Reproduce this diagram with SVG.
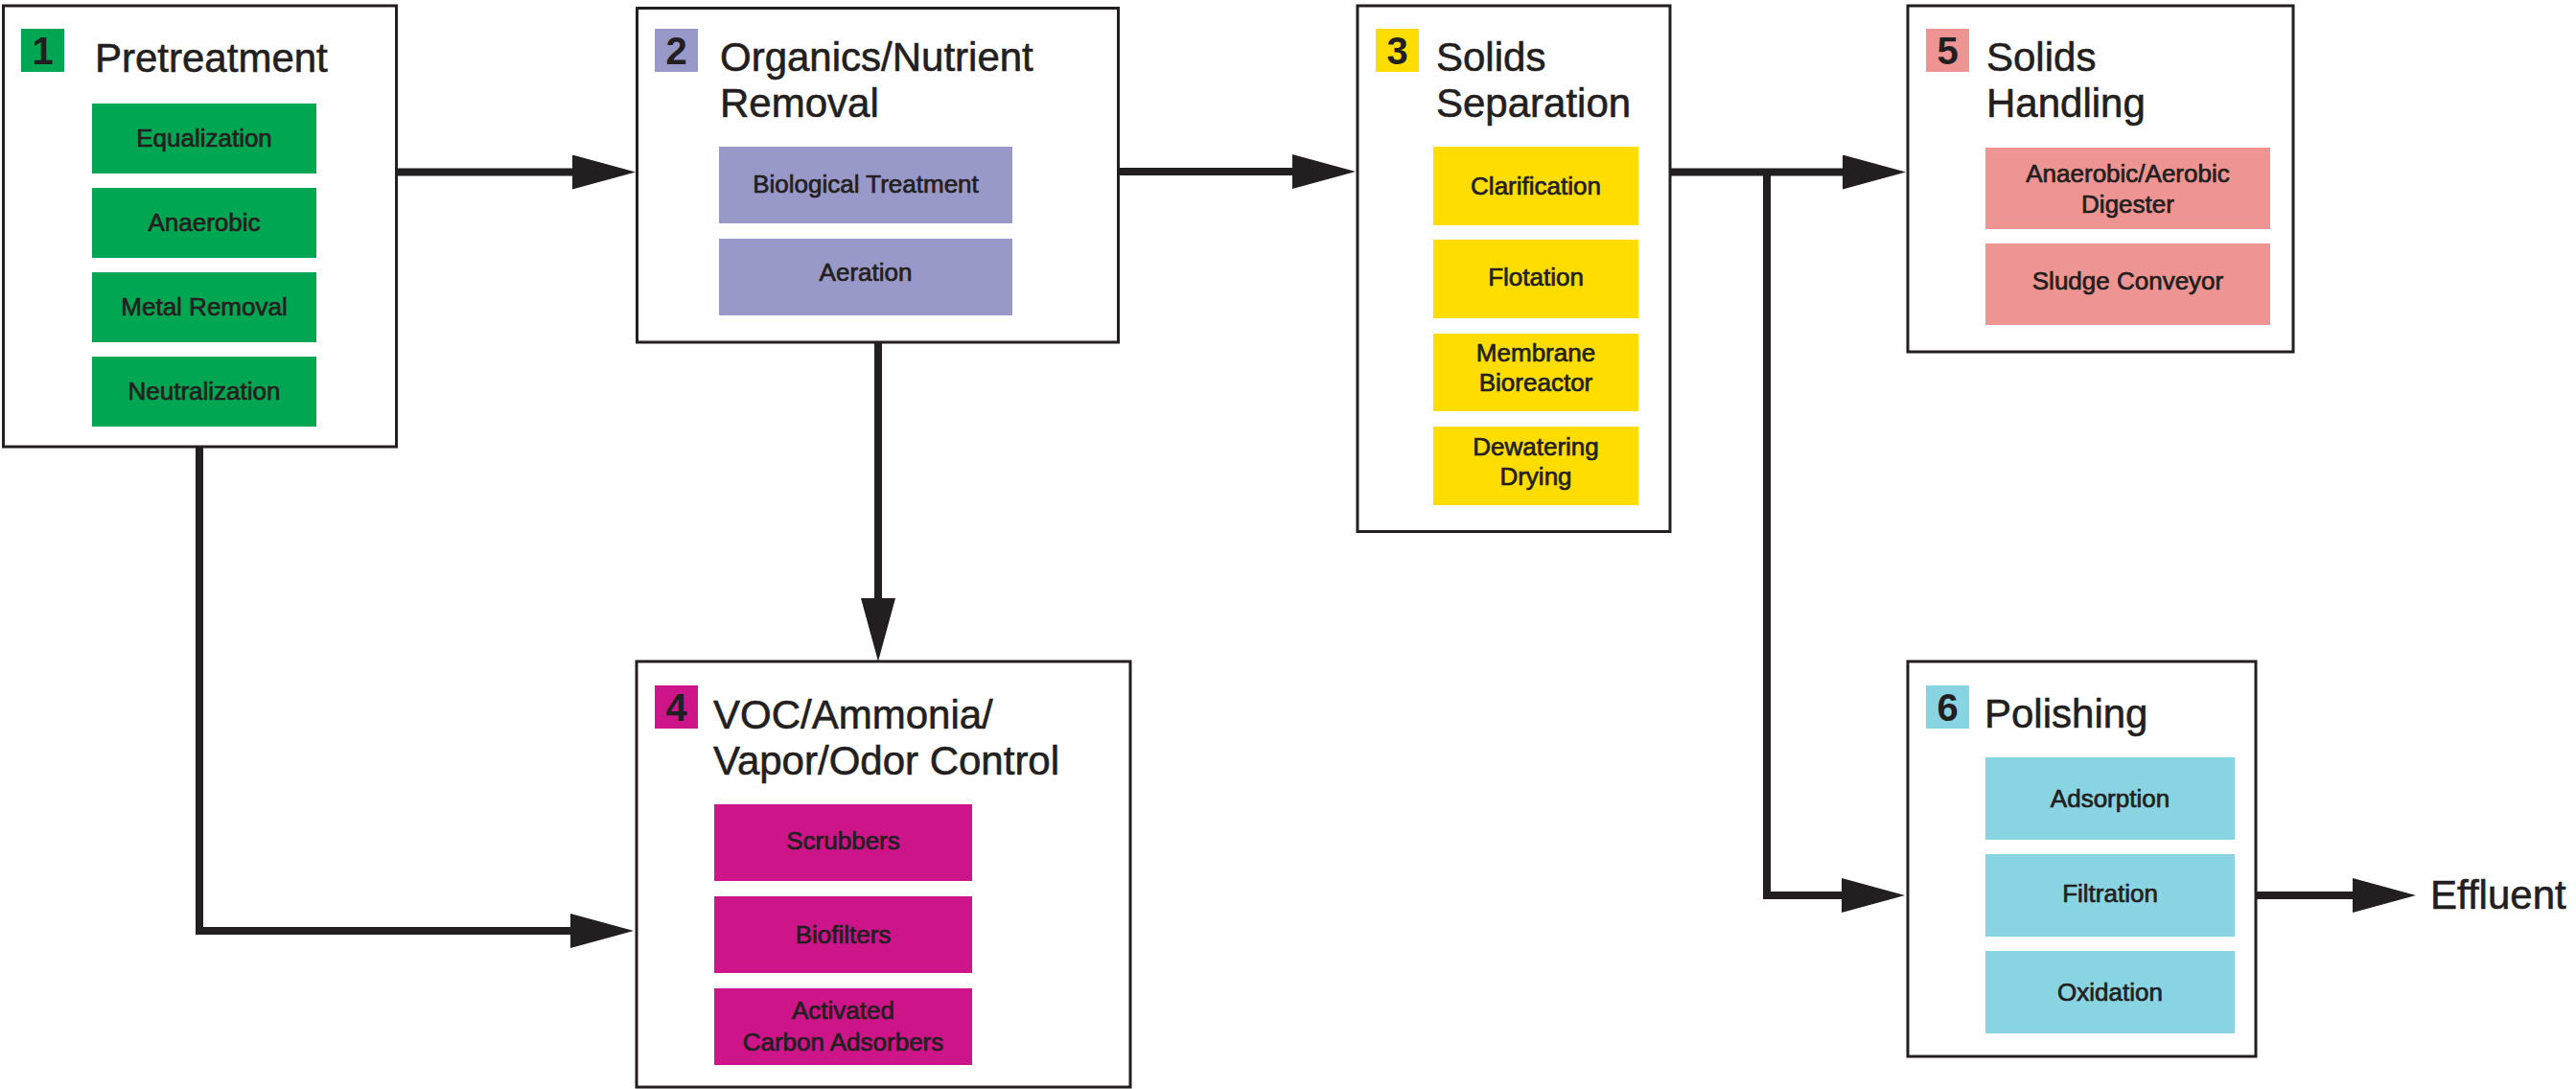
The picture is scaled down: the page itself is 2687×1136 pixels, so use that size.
<svg xmlns="http://www.w3.org/2000/svg" width="2687" height="1136" viewBox="0 0 2687 1136">
<defs>
<marker id="ah" markerUnits="userSpaceOnUse" markerWidth="66" markerHeight="36" refX="11" refY="18" orient="auto">
<path d="M0,0 L66,18 L0,36 z" fill="#231f20"/>
</marker>
<style>
.box{fill:#fff;stroke:#231f20;stroke-width:3}
.t{font-family:"Liberation Sans",Arial,sans-serif;font-size:42px;fill:#231f20;stroke:#231f20;stroke-width:0.6}
.n{font-family:"Liberation Sans",Arial,sans-serif;font-size:40px;font-weight:bold;fill:#231f20;text-anchor:middle}
.s{font-family:"Liberation Sans",Arial,sans-serif;font-size:26px;fill:#231f20;stroke:#231f20;stroke-width:0.7;text-anchor:middle}
.c{fill:none;stroke:#231f20;stroke-width:8;stroke-linejoin:miter;stroke-linecap:butt}
.g{fill:#00a651}.p{fill:#9898c9}.y{fill:#ffdd00}.m{fill:#ce1489}.k{fill:#ee9593}.b{fill:#88d4e2}
</style>
</defs>
<rect width="2687" height="1136" fill="#fff"/>

<g id="connectors">
<path class="c" d="M414,179.5 H608" marker-end="url(#ah)"/>
<path class="c" d="M1167,179 H1359" marker-end="url(#ah)"/>
<path class="c" d="M1742,179.5 H1933" marker-end="url(#ah)"/>
<path class="c" d="M1843,179.5 V934 H1932" marker-end="url(#ah)"/>
<path class="c" d="M916,357 V635" marker-end="url(#ah)"/>
<path class="c" d="M208,467 V971 H606" marker-end="url(#ah)"/>
<path class="c" d="M2353,934 H2465" marker-end="url(#ah)"/>
</g>

<g id="node1">
<rect class="box" x="3.5" y="6" width="410" height="460"/>
<rect class="g" x="22" y="30" width="45" height="45"/>
<text class="n" x="44.5" y="67">1</text>
<text class="t" x="99" y="75">Pretreatment</text>
<rect class="g" x="96" y="108" width="234" height="73"/>
<text class="s" x="213" y="153">Equalization</text>
<rect class="g" x="96" y="196" width="234" height="73"/>
<text class="s" x="213" y="241">Anaerobic</text>
<rect class="g" x="96" y="284" width="234" height="73"/>
<text class="s" x="213" y="329">Metal Removal</text>
<rect class="g" x="96" y="372" width="234" height="73"/>
<text class="s" x="213" y="417">Neutralization</text>
</g>

<g id="node2">
<rect class="box" x="664.5" y="8.5" width="502" height="348.5"/>
<rect class="p" x="683" y="30" width="45" height="45"/>
<text class="n" x="705.5" y="67">2</text>
<text class="t" x="751" y="74">Organics/Nutrient</text>
<text class="t" x="751" y="122">Removal</text>
<rect class="p" x="750" y="153" width="306" height="80"/>
<text class="s" x="903" y="201">Biological Treatment</text>
<rect class="p" x="750" y="249" width="306" height="80"/>
<text class="s" x="903" y="293">Aeration</text>
</g>

<g id="node3">
<rect class="box" x="1416" y="6" width="326" height="548.5"/>
<rect class="y" x="1435" y="30" width="45" height="45"/>
<text class="n" x="1457.5" y="67">3</text>
<text class="t" x="1498" y="74">Solids</text>
<text class="t" x="1498" y="122">Separation</text>
<rect class="y" x="1495" y="153" width="214" height="82"/>
<text class="s" x="1602" y="203">Clarification</text>
<rect class="y" x="1495" y="250" width="214" height="82"/>
<text class="s" x="1602" y="298">Flotation</text>
<rect class="y" x="1495" y="348" width="214" height="81"/>
<text class="s" x="1602" y="377">Membrane</text>
<text class="s" x="1602" y="408">Bioreactor</text>
<rect class="y" x="1495" y="445" width="214" height="82"/>
<text class="s" x="1602" y="475">Dewatering</text>
<text class="s" x="1602" y="506">Drying</text>
</g>

<g id="node4">
<rect class="box" x="664" y="690" width="515" height="444"/>
<rect class="m" x="683" y="715" width="45" height="45"/>
<text class="n" x="705.5" y="752">4</text>
<text class="t" x="744" y="760">VOC/Ammonia/</text>
<text class="t" x="744" y="808">Vapor/Odor Control</text>
<rect class="m" x="745" y="839" width="269" height="80"/>
<text class="s" x="879.5" y="886">Scrubbers</text>
<rect class="m" x="745" y="935" width="269" height="80"/>
<text class="s" x="879.5" y="984">Biofilters</text>
<rect class="m" x="745" y="1031" width="269" height="80"/>
<text class="s" x="879.5" y="1063">Activated</text>
<text class="s" x="879.5" y="1096">Carbon Adsorbers</text>
</g>

<g id="node5">
<rect class="box" x="1990" y="6" width="402" height="361"/>
<rect class="k" x="2009" y="30" width="45" height="45"/>
<text class="n" x="2031.5" y="67">5</text>
<text class="t" x="2072" y="74">Solids</text>
<text class="t" x="2072" y="122">Handling</text>
<rect class="k" x="2071" y="154" width="297" height="85"/>
<text class="s" x="2219.5" y="190">Anaerobic/Aerobic</text>
<text class="s" x="2219.5" y="222">Digester</text>
<rect class="k" x="2071" y="254" width="297" height="85"/>
<text class="s" x="2219.5" y="302">Sludge Conveyor</text>
</g>

<g id="node6">
<rect class="box" x="1990" y="690" width="363" height="412"/>
<rect class="b" x="2009" y="715" width="45" height="45"/>
<text class="n" x="2031.5" y="752">6</text>
<text class="t" x="2070" y="759">Polishing</text>
<rect class="b" x="2071" y="790" width="260" height="86"/>
<text class="s" x="2201" y="842">Adsorption</text>
<rect class="b" x="2071" y="891" width="260" height="86"/>
<text class="s" x="2201" y="941">Filtration</text>
<rect class="b" x="2071" y="992" width="260" height="86"/>
<text class="s" x="2201" y="1044">Oxidation</text>
</g>

<g id="effluent">
<text class="t" x="2535" y="948">Effluent</text>
</g>
</svg>
